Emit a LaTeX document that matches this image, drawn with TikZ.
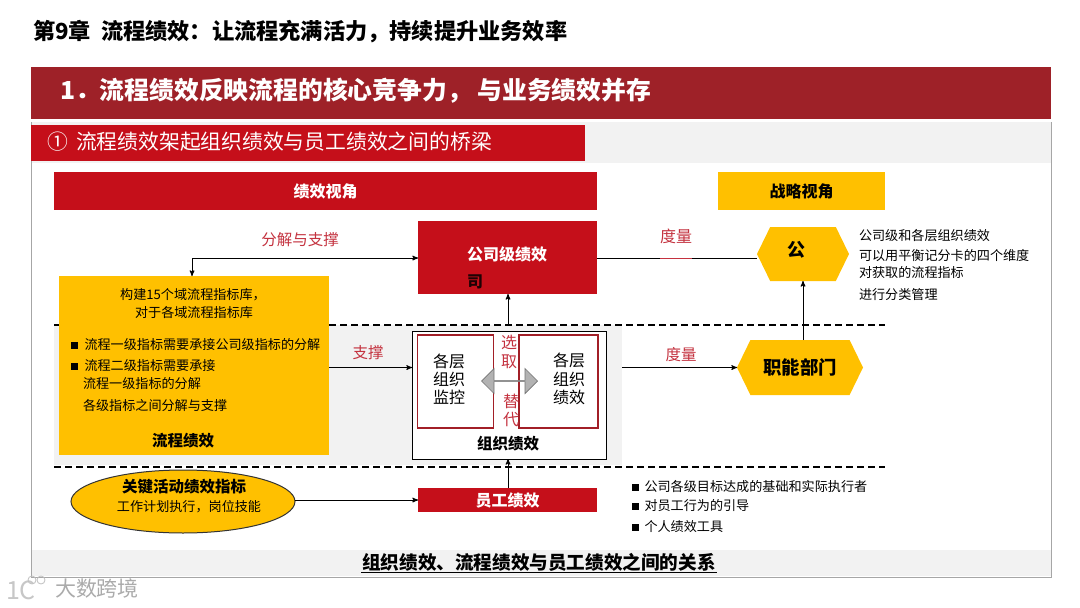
\documentclass[tikz,border=0pt]{standalone}
\usepackage{fontspec}
\setmainfont{Noto Sans CJK SC}
\usepackage{tikz}
\usetikzlibrary{arrows,arrows.meta,positioning,shapes.geometric,shapes.symbols,shapes.arrows}
\definecolor{darkred}{HTML}{9E2128}
\definecolor{mainred}{HTML}{C50F1A}
\definecolor{mainyellow}{HTML}{FFC000}
\definecolor{lightband}{HTML}{F2F2F2}
\definecolor{labelred}{HTML}{C4323F}
\newcommand{\fsize}[1]{\fontsize{#1}{#1}\selectfont}

\begin{document}
\begin{tikzpicture}[x=1pt, y=-1pt, >=stealth', line width=1pt]
\tikzstyle{every node}=[inner sep=0pt, outer sep=0pt]
\tikzstyle{redbox}=[fill=mainred, text=white, font=\fsize{16}\bfseries]
\tikzstyle{yellowbox}=[fill=mainyellow, text=black, font=\fsize{16}\bfseries]
\tikzstyle{hexbox}=[yellowbox, signal, signal to=east and west, signal pointer angle=128]
\tikzstyle{framebox}=[draw=darkred!90!mainred, fill=white, line width=1.3pt, minimum width=76, minimum height=93]
\tikzstyle{stacktext}=[align=center, font=\fontsize{16}{18.2}\selectfont]
\tikzstyle{redlabel}=[text=labelred, font=\fsize{15.5}]
\tikzstyle{redstack}=[stacktext, text=labelred]
\tikzstyle{smalltext}=[anchor=west, text=black, font=\fsize{13.1}]
\tikzstyle{boldtext}=[text=black, font=\fsize{15.5}\bfseries]
\tikzstyle{bullet}=[fill=black, minimum size=7]
\tikzstyle{dashline}=[line width=1.1pt, dash pattern=on 7pt off 4pt]
\useasboundingbox (0,0) rectangle (1080,608);
\fill[white] (0,0) rectangle (1080,608);

% header
\node[anchor=west, font=\fsize{22.2}\bfseries] (title) at (33,32) {第9章~~流程绩效：让流程充满活力，持续提升业务效率};
\node[fill=darkred, minimum width=1020, minimum height=52] (band) at (541,93) {};
\node[anchor=west, text=white, font=\fsize{24.8}\bfseries] (bandtext) at (60,91) {1．流程绩效反映流程的核心竞争力， 与业务绩效并存};

% panel
\node[draw=black!35, fill=white, line width=1pt, minimum width=1020, minimum height=455] (panel) at (541,349.5) {};
\node[fill=lightband, minimum width=1019, minimum height=41] (topband) at (541,142.5) {};
\node[fill=mainred, minimum width=554, minimum height=36] (tab) at (308,143) {};
\node[anchor=west, text=white, font=\fsize{20.8}] (tabcirc) at (47,142) {①};
\node[anchor=west, text=white, font=\fsize{20.8}] (tabtext) at (76,142) {流程绩效架起组织绩效与员工绩效之间的桥梁};
\node[fill=lightband, minimum width=1019, minimum height=26] (botband) at (541,563) {};
\node[font=\fsize{18.6}\bfseries] (bottext) at (539,562) {组织绩效、流程绩效与员工绩效之间的关系};
\coordinate (ulinea) at (361,572);
\coordinate (ulineb) at (717,572);
\draw[line width=1pt] (ulinea) -- (ulineb);

% middle area
\node[fill=lightband, minimum width=568, minimum height=140] (midband) at (338,395) {};
\coordinate (dasha) at (54,325);
\coordinate (dashb) at (885,325);
\coordinate (dashc) at (54,467);
\coordinate (dashd) at (885,467);
\draw[dashline] (dasha) -- (dashb);
\draw[dashline] (dashc) -- (dashd);

% top row
\node[redbox, minimum width=543, minimum height=38] (perf) at (325.5,191) {绩效视角};
\node[yellowbox, minimum width=167, minimum height=38] (strat) at (801.5,191) {战略视角};
\node[redbox, minimum width=179, minimum height=73] (comp) at (507.5,257.5) {};
\node[text=white, font=\fsize{16}\bfseries] (comptext) at (507,254) {公司级绩效};
\node[text=black!85!mainred, font=\fsize{16}\bfseries] (compchar) at (475,282) {司};
\node[hexbox, minimum width=92, minimum height=54] (gong) at (803,254) {};
\node[font=\fsize{18}\bfseries] (gongtext) at (796,250) {公};
\node[hexbox, minimum width=126, minimum height=55, font=\fsize{18.4}\bfseries] (dept) at (800,367.5) {职能部门};

% process box
\node[fill=mainyellow, minimum width=270, minimum height=179] (flow) at (194,365.5) {};
\node[font=\fsize{13.1}] (flowa) at (193,295) {构建15个域流程指标库，};
\node[font=\fsize{13.1}] (flowb) at (194,312) {对于各域流程指标库};
\node[bullet] (bula) at (74,345) {};
\node[smalltext, right=7pt of bula] (flowc) {流程一级指标需要承接公司级指标的分解};
\node[bullet] (bulb) at (74,366) {};
\node[smalltext, right=7pt of bulb] (flowd) {流程二级指标需要承接};
\node[smalltext] (flowe) at (83,384) {流程一级指标的分解};
\node[smalltext] (flowf) at (83,405) {各级指标之间分解与支撑};
\node[boldtext] (flowg) at (183,441) {流程绩效};

% org box
\node[draw=black, fill=white, minimum width=194, minimum height=128] (org) at (509,395) {};
\node[framebox] (monitor) at (455.5,381.5) {};
\node[framebox, minimum width=79] (orgperf) at (558.5,381.5) {};
\node[stacktext] (monitortext) at (449,379) {各层\\组织\\监控};
\node[stacktext] (orgperftext) at (569,379) {各层\\组织\\绩效};
\node[redstack] (pick) at (509,352) {选\\取};
\node[redstack] (swap) at (511,410.5) {替\\代};
\node[double arrow, draw=black!55, fill=black!30, line width=0.7pt, minimum width=25, minimum height=56, double arrow head extend=6.5, double arrow head indent=0pt] (swaparrow) at (509.5,381) {};
\node[boldtext] (orgtext) at (508,444) {组织绩效};

% bottom row
\node[redbox, minimum width=179, minimum height=24] (staff) at (507.5,500) {员工绩效};
\node[ellipse, draw=black!80, fill=mainyellow, minimum width=224, minimum height=63] (key) at (183,501.5) {};
\node[boldtext] (keya) at (184,487) {关键活动绩效指标};
\node[font=\fsize{13.1}] (keyb) at (189,507) {工作计划执行，岗位技能};
\node[bullet] (bulc) at (635,487) {};
\node[smalltext, right=6pt of bulc] (notea) {公司各级目标达成的基础和实际执行者};
\node[bullet] (buld) at (635,506) {};
\node[smalltext, right=6pt of buld] (noteb) {对员工行为的引导};
\node[bullet] (bule) at (635,527) {};
\node[smalltext, right=6pt of bule] (notec) {个人绩效工具};

% right notes
\node[smalltext] (sidea) at (859,236) {公司级和各层组织绩效};
\node[smalltext] (sideb) at (859,256) {可以用平衡记分卡的四个维度};
\node[smalltext] (sidec) at (859,273) {对获取的流程指标};
\node[smalltext] (sided) at (859,295) {进行分类管理};

% labels
\node[redlabel] (split) at (300,240) {分解与支撑};
\node[redlabel, font=\fsize{16}] (measa) at (676,236) {度量};
\node[redlabel] (measb) at (681,355) {度量};
\node[redlabel] (supp) at (368,353) {支撑};

% connectors
\coordinate (flowtop) at (192,276);
\coordinate (outmid) at (622,367.5);
\coordinate (marka) at (660,258);
\coordinate (markb) at (692,258);
\coordinate (compin) at (508,325);
\draw[<->] (comp.west |- 0,258) -- (192,258) -- (flowtop);
\draw (comp.east |- 0,258) -- (gong.west |- 0,258);
\draw[labelred] (marka) -- (markb);
\path[->]
(dept.north -| gong) edge (gong.south)
(compin) edge (comp.south -| compin)
(staff.north -| compin) edge (org.south -| compin)
(flow.east |- dept) edge (org.west |- dept)
(outmid) edge (dept.west)
(key.east |- staff) edge (staff.west);

% watermark
\node[font=\fsize{21}, text=black!33] (mark) at (97,588) {大数跨境};
\node[font=\fsize{25}, text=black!22] (logo) at (21,590) {1C};
\node[circle, draw=black!25, line width=0.8pt, minimum size=8] (loga) at (32,580) {};
\node[circle, draw=black!25, line width=0.8pt, minimum size=8] (logb) at (41,580) {};
\end{tikzpicture}
\end{document}
